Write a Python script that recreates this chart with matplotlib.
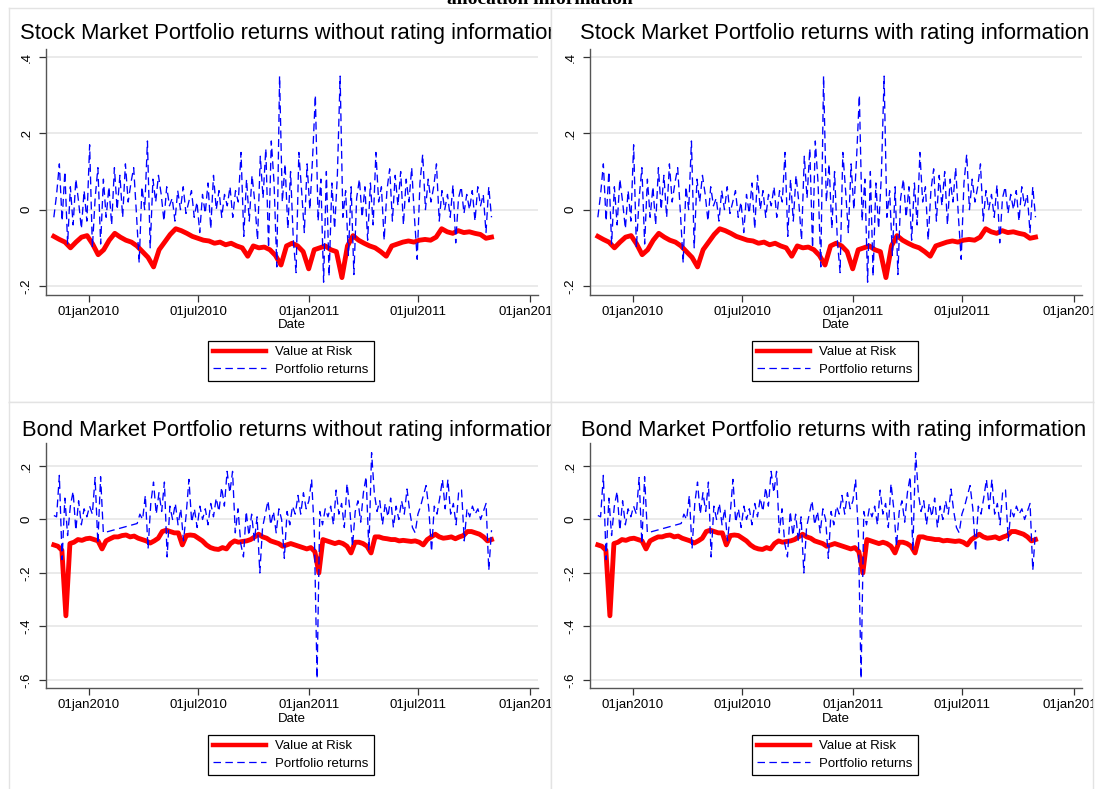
import numpy as np
import pandas as pd
import matplotlib
matplotlib.use('Agg')
import matplotlib.pyplot as plt
from matplotlib.lines import Line2D

W, H = 1098, 789
plt.rcParams['font.family'] = ['Liberation Sans', 'DejaVu Sans']

# ---------------- data ----------------
# stock market portfolio returns, evenly spaced from 04nov2009 to 30oct2011
stock_ret = [
    -0.02, 0.04, 0.12, -0.03, 0.10, -0.09, 0.06, -0.04, 0.08, 0.02,
    -0.05, 0.05, -0.03, 0.17, -0.10, 0.03, 0.11, -0.09, 0.08, -0.02,
    0.06, -0.04, 0.11, 0.00, 0.09, -0.02, 0.12, 0.02, 0.07, 0.11,
    -0.01, -0.14, 0.06, 0.00, 0.18, -0.10, 0.08, 0.02, 0.09, 0.04,
    -0.03, 0.06, 0.01, 0.03, -0.03, 0.05, 0.00, 0.06, -0.01, 0.02,
    0.05, -0.02, 0.02, -0.06, 0.04, -0.01, 0.07, -0.05, 0.09, 0.00,
    0.05, -0.02, 0.04, 0.01, 0.06, -0.02, 0.05, 0.02, 0.15, -0.07,
    0.08, -0.03, 0.09, 0.02, -0.08, 0.14, 0.03, 0.16, -0.10, 0.18,
    0.07, -0.15, 0.35, 0.02, 0.12, -0.05, 0.10, -0.08, -0.165, 0.15,
    0.05, -0.06, 0.12, 0.00, 0.136, 0.30, -0.03, 0.08, -0.19, 0.10,
    -0.175, 0.07, -0.05, 0.09, 0.35, -0.02, 0.05, -0.12, 0.06, -0.17,
    0.03, 0.08, -0.02, 0.06, -0.08, 0.07, -0.04, 0.15, 0.02, 0.06,
    -0.08, 0.05, 0.107, -0.03, 0.09, 0.01, 0.10, -0.04, 0.08, 0.02,
    0.11, -0.02, -0.13, 0.07, 0.145, 0.00, 0.08, 0.02, 0.06, 0.12,
    -0.03, 0.05, 0.00, 0.04, -0.02, 0.065, -0.087, 0.03, 0.06, -0.01,
    0.04, 0.00, 0.05, -0.03, 0.06, 0.01, 0.04, -0.06, 0.06, -0.02,
]
# stock market value at risk, evenly spaced over the same period
stock_var = [
    -0.070, -0.078, -0.085, -0.100, -0.085, -0.072, -0.068, -0.090, -0.118, -0.105,
    -0.080, -0.062, -0.072, -0.080, -0.085, -0.095, -0.110, -0.125, -0.150, -0.105,
    -0.085, -0.065, -0.050, -0.055, -0.062, -0.070, -0.075, -0.080, -0.082, -0.088,
    -0.085, -0.092, -0.088, -0.095, -0.100, -0.122, -0.095, -0.100, -0.098, -0.105,
    -0.120, -0.145, -0.095, -0.088, -0.095, -0.110, -0.155, -0.105, -0.100, -0.095,
    -0.105, -0.110, -0.178, -0.095, -0.068, -0.080, -0.088, -0.095, -0.100, -0.110,
    -0.122, -0.095, -0.090, -0.085, -0.082, -0.085, -0.080, -0.078, -0.080, -0.072,
    -0.050, -0.058, -0.062, -0.055, -0.060, -0.058, -0.062, -0.065, -0.075, -0.072,
]
stock_start, stock_end = '2009-11-04', '2011-10-30'

# bond market portfolio returns: two stretches with a gap (feb-mar 2010)
bond_ret_a = [
    0.015, 0.01, 0.165, -0.15, 0.08, -0.06, 0.05, 0.105, -0.04, 0.07,
    -0.02, 0.04, 0.01, 0.05, 0.02, 0.157, -0.09, 0.16, -0.05,
]
bond_ret_b = [
    -0.015, 0.02, 0.00, 0.09, -0.11, 0.06, 0.14, 0.02, 0.10, 0.03,
    0.14, -0.14, 0.05, 0.00, 0.06, -0.02, 0.04, -0.08, 0.02, 0.15,
    -0.01, 0.04, -0.03, 0.05, 0.00, 0.04, -0.02, 0.06, 0.01, 0.08,
    0.03, 0.12, 0.05, 0.18, 0.10, 0.18, -0.05, 0.04, -0.09, -0.14,
    0.03, -0.06, 0.02, -0.08, 0.01, -0.20, -0.03, 0.02, 0.07, -0.02,
    0.03, -0.05, 0.04, 0.00, -0.145, 0.03, -0.02, 0.05, 0.02, 0.09,
    0.02, 0.10, 0.04, 0.07, 0.15, -0.05, -0.595, 0.03, -0.02, 0.04,
    0.01, 0.05, -0.02, 0.11, 0.02, 0.06, -0.03, 0.134, 0.04, -0.10,
    0.03, 0.07, -0.01, 0.10, 0.16, -0.115, 0.25, 0.10, 0.03, 0.07,
    -0.02, 0.06, 0.01, 0.08, -0.03, 0.05, 0.00, 0.07, 0.02, 0.114,
    0.03, -0.03, -0.05, 0.02, 0.05, 0.09, 0.127, 0.04, -0.12, 0.05,
    0.02, 0.08, 0.15, 0.04, 0.15, 0.02, 0.06, -0.02, 0.11, 0.11,
    -0.08, 0.04, 0.01, 0.05, 0.02, 0.04, 0.00, 0.03, 0.06, -0.19, -0.04,
]
bond_a_start, bond_a_end = '2009-11-04', '2010-01-25'
bond_b_start, bond_b_end = '2010-03-22', '2011-10-30'
bond_var = [
    -0.095, -0.100, -0.115, -0.360, -0.090, -0.085, -0.075, -0.078, -0.072, -0.070,
    -0.075, -0.080, -0.110, -0.080, -0.072, -0.065, -0.065, -0.060, -0.058, -0.065,
    -0.062, -0.070, -0.075, -0.080, -0.088, -0.080, -0.070, -0.045, -0.040, -0.045,
    -0.050, -0.050, -0.095, -0.060, -0.058, -0.060, -0.070, -0.080, -0.095, -0.105,
    -0.110, -0.112, -0.105, -0.110, -0.090, -0.080, -0.085, -0.082, -0.080, -0.075,
    -0.065, -0.055, -0.065, -0.070, -0.080, -0.085, -0.090, -0.100, -0.095, -0.090,
    -0.095, -0.100, -0.105, -0.110, -0.105, -0.120, -0.200, -0.075, -0.080, -0.085,
    -0.090, -0.085, -0.090, -0.100, -0.125, -0.085, -0.085, -0.090, -0.100, -0.125,
    -0.065, -0.065, -0.070, -0.072, -0.075, -0.075, -0.080, -0.078, -0.080, -0.082,
    -0.080, -0.085, -0.095, -0.075, -0.065, -0.055, -0.065, -0.070, -0.068, -0.065,
    -0.072, -0.065, -0.060, -0.045, -0.045, -0.050, -0.055, -0.065, -0.080, -0.075,
]

titles = [
    'Stock Market Portfolio returns without rating information',
    'Stock Market Portfolio returns with rating information',
    'Bond Market Portfolio returns without rating information',
    'Bond Market Portfolio returns with rating information',
]
xtick_dates = ['2010-01-01', '2010-07-01', '2011-01-01', '2011-07-01', '2012-01-01']
xtick_labels = ['01jan2010', '01jul2010', '01jan2011', '01jul2011', '01jan2012']
stock_yticks = [-0.2, 0, 0.2, 0.4]
stock_ylabels = ['-.2', '0', '.2', '.4']
bond_yticks = [-0.6, -0.4, -0.2, 0, 0.2]
bond_ylabels = ['-.6', '-.4', '-.2', '0', '.2']
legend_labels = ['Value at Risk', 'Portfolio returns']

# ---------------- x positions ----------------
stock_dates = pd.date_range(stock_start, stock_end, periods=len(stock_ret))
stock_var_dates = pd.date_range(stock_start, stock_end, periods=len(stock_var))
bond_dates = pd.date_range(bond_a_start, bond_a_end, periods=len(bond_ret_a)).append(
    pd.date_range(bond_b_start, bond_b_end, periods=len(bond_ret_b)))
bond_ret = bond_ret_a + bond_ret_b
bond_var_dates = pd.date_range(stock_start, stock_end, periods=len(bond_var))


def rect(x0, y0, x1, y1):
    # pixel box (top-left origin) -> figure rect
    return [x0 / W, 1 - y1 / H, (x1 - x0) / W, (y1 - y0) / H]


fig = plt.figure(figsize=(W / 100, H / 100), dpi=100)
fig.patch.set_facecolor('white')

fig.text(540 / W, 1 - 4 / H, 'allocation information', ha='center', va='baseline',
         family='Liberation Serif', weight='bold', fontsize=14)

FS = 9.5
panels = [
    # panel box, axes box, title pos, data, ylim, legend centre
    ((9, 8, 551, 402), (46, 49, 538, 295), (20, 39), 'stock', (-0.2236, 0.421), (291, 361)),
    ((551, 8, 1093, 402), (590, 49, 1082, 295), (580, 39), 'stock', (-0.2236, 0.421), (835, 361)),
    ((9, 402, 551, 800), (46, 443, 538, 688), (22, 436), 'bond', (-0.630, 0.286), (291, 755)),
    ((551, 402, 1093, 800), (590, 443, 1082, 688), (581, 436), 'bond', (-0.630, 0.286), (835, 755)),
]

xlim = (pd.Timestamp('2009-10-22'), pd.Timestamp('2012-01-15'))
dash = (0, (6, 3.5))

for k, (pbox, abox, tpos, market, ylim, lpos) in enumerate(panels):
    bg = fig.add_axes(rect(*pbox))
    bg.set_xticks([])
    bg.set_yticks([])
    for s in bg.spines.values():
        s.set_color('#e3e3e3')
        s.set_linewidth(1.0)
    bg.set_facecolor('white')
    bg.text(tpos[0] / W, 1 - tpos[1] / H, titles[k], transform=fig.transFigure,
            ha='left', va='baseline', fontsize=15.8, clip_on=True)

    ax = fig.add_axes(rect(*abox))
    if market == 'stock':
        ax.plot(stock_var_dates, stock_var, color='red', lw=3.5, zorder=2)
        ax.plot(stock_dates, stock_ret, color='blue', lw=0.95, ls=dash, zorder=3)
        yt, yl = stock_yticks, stock_ylabels
    else:
        ax.plot(bond_var_dates, bond_var, color='red', lw=3.5, zorder=2)
        ax.plot(bond_dates, bond_ret, color='blue', lw=0.95, ls=dash, zorder=3)
        yt, yl = bond_yticks, bond_ylabels

    ax.set_xlim(*xlim)
    ax.set_ylim(*ylim)
    ax.set_yticks(yt)
    ax.set_yticklabels(yl, rotation=90, va='center')
    ax.set_xticks(pd.to_datetime(xtick_dates))
    ax.set_xticklabels(xtick_labels)
    ax.grid(axis='y', color='#e8e8e8', lw=1.3, zorder=0)
    ax.set_axisbelow(True)
    for side in ('top', 'right'):
        ax.spines[side].set_visible(False)
    for side in ('left', 'bottom'):
        ax.spines[side].set_color('#555555')
        ax.spines[side].set_linewidth(1.0)
    ax.tick_params(axis='both', direction='out', length=5, width=0.9, color='#333333',
                   labelsize=FS, labelcolor='black')
    ax.tick_params(axis='x', pad=3)
    ax.tick_params(axis='y', pad=4.5)
    ax.set_xlabel('Date', fontsize=FS, labelpad=1)
    for lab in ax.get_xticklabels() + ax.get_yticklabels():
        lab.set_clip_path(bg.patch)
        lab.set_clip_on(True)

    handles = [Line2D([], [], color='red', lw=3.2),
               Line2D([], [], color='blue', lw=0.9, ls=dash)]
    leg = ax.legend(handles, legend_labels, loc='center',
                    bbox_to_anchor=(lpos[0] / W, 1 - lpos[1] / H),
                    bbox_transform=fig.transFigure, frameon=True, fancybox=False,
                    edgecolor='black', framealpha=1, fontsize=FS, handlelength=4.0,
                    handletextpad=0.7, borderpad=0.42, labelspacing=0.4, borderaxespad=0)
    leg.get_frame().set_linewidth(0.9)

fig.savefig('out.png', dpi=100, facecolor='white')
